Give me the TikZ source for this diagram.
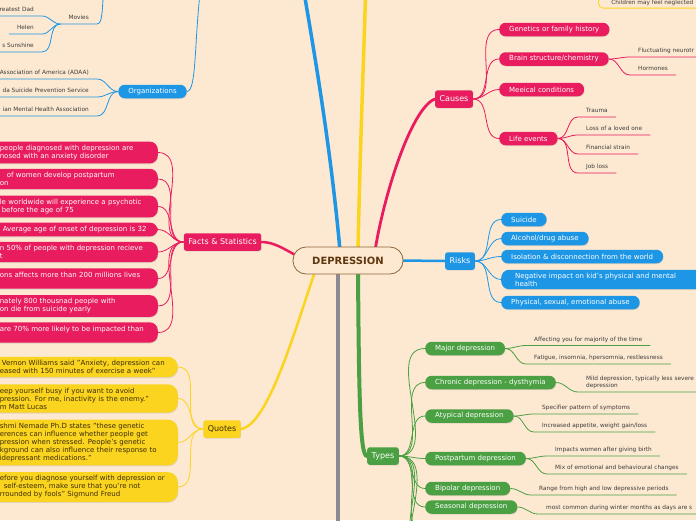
\documentclass[tikz,border=0pt]{standalone}
\usepackage{fontspec}
\setmainfont{DejaVu Sans}
\usetikzlibrary{calc,shadows,backgrounds}

\definecolor{paper}{RGB}{253,233,209}
\definecolor{mmpink}{RGB}{232,28,94}
\definecolor{mmblue}{RGB}{30,150,230}
\definecolor{mmyellow}{RGB}{250,212,30}
\definecolor{mmgreen}{RGB}{74,160,66}
\definecolor{mmgray}{RGB}{138,138,144}
\definecolor{rootbrown}{RGB}{140,100,60}
\definecolor{rootink}{RGB}{95,55,15}
\definecolor{leafgray}{RGB}{60,60,60}
\definecolor{quoteink}{RGB}{60,45,10}

\begin{document}
\begin{tikzpicture}[x=1pt, y=-1pt,
    every node/.style={font=\fontsize{7}{8}\selectfont},
    lift/.style={drop shadow={shadow xshift=0.4pt, shadow yshift=-0.9pt, opacity=0.22}},
    root/.style={draw=rootbrown, line width=0.8pt, fill=paper, rounded corners=13pt, minimum width=110pt, minimum height=27pt, text=rootink, font=\fontsize{10}{12}\selectfont\bfseries},
    topic/.style={rounded corners=2.5pt, fill=#1, text=white, font=\fontsize{8}{9}\selectfont, inner xsep=4.5pt, minimum height=17.5pt, lift},
    pill/.style={rounded corners=6.5pt, fill=#1, text=white, inner xsep=10pt, minimum height=13.5pt, anchor=west, lift},
    fact/.style={pill=mmpink, anchor=east, text width=148pt, align=left, inner ysep=3.5pt, rounded corners=8pt},
    quotebox/.style={pill=mmyellow, text=quoteink, anchor=east, text width=168pt, align=left, inner ysep=3.5pt, rounded corners=10pt},
    notebox/.style={draw=mmyellow, line width=0.8pt, fill=paper, rounded corners=5pt, text=leafgray, font=\fontsize{5.8}{7}\selectfont, inner xsep=13pt, inner ysep=1pt, minimum height=11pt, anchor=south west},
    leaf/.style={font=\fontsize{5.8}{7.5}\selectfont, text=leafgray, inner xsep=8pt, inner ysep=2.8pt, text depth=1.3pt, anchor=south west, align=left},
    leafl/.style={leaf, anchor=south east},
    link/.style={draw=#1, line width=0.8pt},
    mainline/.style={draw=#1, line width=3.5pt, line cap=round},
]
\useasboundingbox (0,0) rectangle (696,520);
\clip (0,0) rectangle (696,520);

% centre
\node[root] (dep) at (348,260.5) {DEPRESSION};

% off-picture ends
\coordinate (blueup) at (302,-20);
\coordinate (yellowup) at (366,-20);
\coordinate (grayend) at (338,545);
\coordinate (orgup) at (201,-15);
\coordinate (mvup) at (104,-15);
\coordinate (tx1) at (425,532);
\coordinate (tx2) at (425,555);
\coordinate (tx3) at (425,580);

% main topics
\node[topic=mmpink] (causes) at (454,99) {Causes};
\node[topic=mmpink] (facts) at (222.5,242) {Facts \& Statistics};
\node[topic=mmblue] (risks) at (460,261) {Risks};
\node[topic=mmyellow, text=quoteink] (quotes) at (222,429) {Quotes};
\node[topic=mmgreen] (types) at (383,456) {Types};
\node[pill=mmblue, anchor=center] (org) at (152.5,91.5) {Organizations};
\node[notebox] (note) at (598,8.5) {Children may feel neglected};

% organizations and movies
\node[leafl] (o1) at (97,79) {Association of America (ADAA)};
\node[leafl] (o2) at (97,97) {da Suicide Prevention Service};
\node[leafl] (o3) at (97,116) {ian Mental Health Association};
\node[leafl] (mv) at (97,24) {Movies};
\node[leafl] (mv1) at (42,16) {reatest Dad};
\node[leafl] (mv2) at (42,34) {Helen};
\node[leafl] (mv3) at (42,52) {s Sunshine};

% facts
\node[fact] (f1) at (158,152.5) {people diagnosed with depression are\\nosed with an anxiety disorder};
\node[fact] (f2) at (158,179) {\hspace*{7pt}of women develop postpartum\\on};
\node[fact] (f3) at (158,206.5) {le worldwide will experience a psychotic\\\hspace*{2pt}before the age of 75};
\node[fact, text width=145pt] (f4) at (158,229.5) {Average age of onset of depression is 32};
\node[fact] (f5) at (158,252) {n 50\% of people with depression recieve\\t};
\node[fact] (f6) at (158,278.5) {ons affects more than 200 millions lives\\\mbox{}};
\node[fact] (f7) at (158,306) {nately 800 thousnad people with\\on die from suicide yearly};
\node[fact] (f8) at (158,332.5) {are 70\% more likely to be impacted than\\\mbox{}};

% quotes
\node[quotebox] (q1) at (178,367) {\hspace*{2pt}Vernon Williams said "Anxiety, depression can\\eased with 150 minutes of exercise a week"};
\node[quotebox] (q2) at (178,398.5) {eep yourself busy if you want to avoid\\pression. For me, inactivity is the enemy."\\m Matt Lucas};
\node[quotebox] (q3) at (178,442.5) {shmi Nemade Ph.D states "these genetic\\erences can influence whether people get\\pression when stressed. People's genetic\\kground can also influence their response to\\idepressant medications."};
\node[quotebox] (q4) at (178,487) {efore you diagnose yourself with depression or\\\hspace*{4pt}self-esteem, make sure that you're not\\rrounded by fools" Sigmund Freud};

% causes
\node[pill=mmpink] (c1) at (499,29.5) {Genetics or family history};
\node[pill=mmpink] (c2) at (499,59) {Brain structure/chemistry};
\node[pill=mmpink] (c3) at (499,89.5) {Meeical conditions};
\node[pill=mmpink] (c4) at (499,138.5) {Life events};
\node[leaf] (b1) at (630,57) {Fluctuating neurotr};
\node[leaf] (b2) at (630,75) {Hormones};
\node[leaf] (l1) at (578,117) {Trauma};
\node[leaf] (l2) at (578,135) {Loss of a loved one};
\node[leaf] (l3) at (578,154) {Financial strain};
\node[leaf] (l4) at (578,173) {Job loss};

% risks
\node[pill=mmblue] (r1) at (501,219.5) {Suicide};
\node[pill=mmblue] (r2) at (501,238.5) {Alcohol/drug abuse};
\node[pill=mmblue] (r3) at (501,256.5) {Isolation \& disconnection from the world};
\node[pill=mmblue, text width=185pt, align=left, inner xsep=14pt, inner ysep=3pt, rounded corners=8pt] (r4) at (501,279.5) {Negative impact on kid's physical and mental\\health};
\node[pill=mmblue] (r5) at (501,302.5) {Physical, sexual, emotional abuse};

% types
\node[pill=mmgreen] (t1) at (425,348.5) {Major depression};
\node[pill=mmgreen] (t2) at (425,382.5) {Chronic depression - dysthymia};
\node[pill=mmgreen] (t3) at (425,416) {Atypical depression};
\node[pill=mmgreen] (t4) at (425,458.5) {Postpartum depression};
\node[pill=mmgreen] (t5) at (425,488.5) {Bipolar depression};
\node[pill=mmgreen] (t6) at (425,507) {Seasonal depression};
\node[leaf] (m1) at (526,345.5) {Affecting you for majority of the time};
\node[leaf] (m2) at (526,364) {Fatigue, insomnia, hpersomnia, restlessness};
\node[leaf] (ch1) at (578,392) {Mild depression, typically less severe\\depression};
\node[leaf] (a1) at (534,414) {Specifier pattern of symptoms};
\node[leaf] (a2) at (534,432) {Increased appetite, weight gain/loss};
\node[leaf] (p1) at (547,456) {Impacts women after giving birth};
\node[leaf] (p2) at (547,474) {Mix of emotional and behavioural changes};
\node[leaf] (bp1) at (531,495) {Range from high and low depressive periods};
\node[leaf] (s1) at (538,514) {most common during winter months as days are s};

\begin{scope}[on background layer]
  \fill[paper] (0,0) rectangle (696,520);
  \clip (0,0) rectangle (696,520);
  % branches from the centre
  \draw[mainline=mmblue] ($(dep.north)+(-8,4)$) .. controls (330,140) and (312,40) .. (blueup);
  \draw[mainline=mmyellow] ($(dep.north)+(10,4)$) .. controls (360,150) and (364,50) .. (yellowup);
  \draw[mainline=mmpink, line width=2.8pt] ($(dep.north)+(27,4)$) .. controls (385,190) and (412,108) .. (causes.west);
  \draw[mainline=mmpink, line width=2.5pt] (facts.east) .. controls (275,242) and (285,250) .. ($(dep.west)+(6,-4)$);
  \draw[mainline=mmblue, line width=2.5pt] ($(dep.east)+(-4,0)$) -- (risks.west);
  \draw[mainline=mmyellow, line width=2.5pt] ($(dep.south)+(-33,-3)$) .. controls (295,330) and (268,425) .. (quotes.east);
  \draw[mainline=mmgray, line width=4pt] ($(dep.south)+(-10,-3)$) -- (grayend);
  \draw[mainline=mmgreen, line width=4pt] ($(dep.south)+(10,-3)$) .. controls (359,400) and (360,456) .. (types.west);
  % blue branch
  \draw[link=mmblue] (org.east) .. controls (197,91) and (194,40) .. (orgup);
  \draw[link=mmblue] (mvup) .. controls (102,8) and (103,24) .. (mv.south east) -- (mv.south west);
  \foreach \o in {o1,o2,o3}
    \draw[link=mmblue] (org.west) to[out=180,in=0] (\o.south east) -- (\o.south west);
  \foreach \m in {mv1,mv2,mv3}
    \draw[link=mmblue] (mv.south west) to[out=180,in=0] (\m.south east) -- (\m.south west);
  % facts and quotes
  \foreach \f in {f1,f2,f3,f4,f5,f6,f7,f8}
    \draw[link=mmpink] (facts.west) to[out=180,in=0] (\f.east);
  \foreach \q in {q1,q2,q3,q4}
    \draw[link=mmyellow] (quotes.west) to[out=180,in=0] (\q.east);
  % causes
  \foreach \c in {c1,c2,c3,c4}
    \draw[link=mmpink] (causes.east) to[out=0,in=180] (\c.west);
  \foreach \p/\k in {c2/b1,c2/b2,c4/l1,c4/l2,c4/l3,c4/l4}
    \draw[link=mmpink] (\p.east) to[out=0,in=180] (\k.south west) -- (\k.south east);
  % risks
  \foreach \r in {r1,r2,r3,r4,r5}
    \draw[link=mmblue] (risks.east) to[out=0,in=180] (\r.west);
  % types
  \foreach \t in {t1,t2,t3,t4,t5,t6,tx1,tx2,tx3}
    \draw[link=mmgreen] (types.east) to[out=0,in=180] (\t);
  \foreach \p/\k in {t1/m1,t1/m2,t2/ch1,t3/a1,t3/a2,t4/p1,t4/p2,t5/bp1,t6/s1}
    \draw[link=mmgreen] (\p.east) to[out=0,in=180] (\k.south west) -- (\k.south east);
\end{scope}
\end{tikzpicture}
\end{document}
